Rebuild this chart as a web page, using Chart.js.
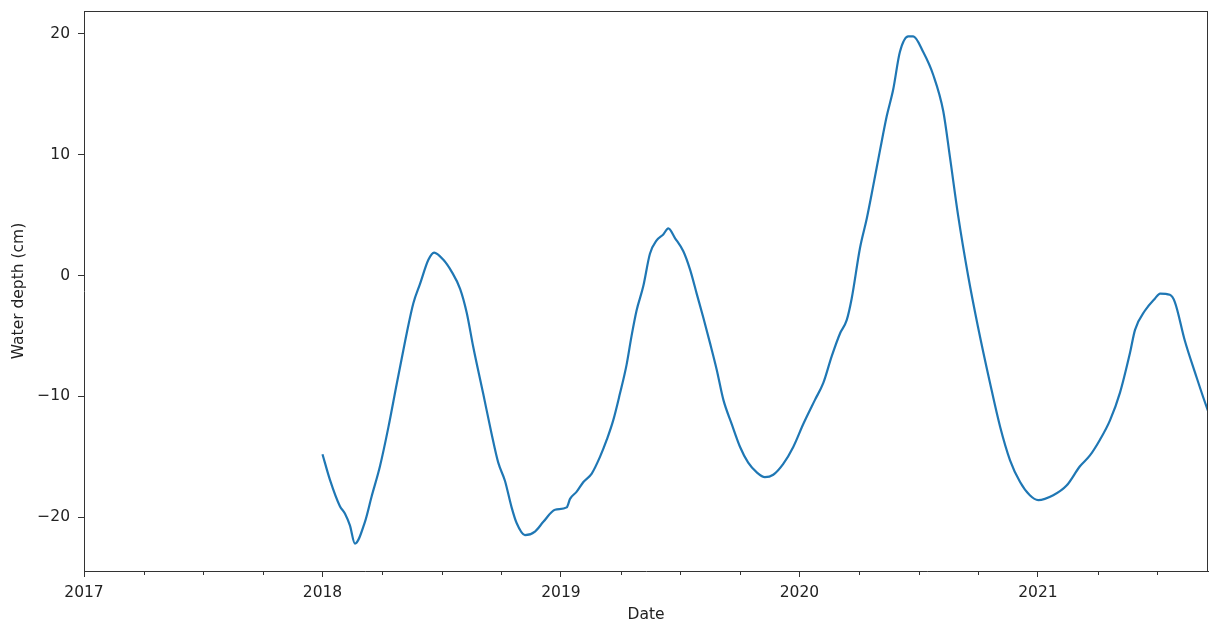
<!DOCTYPE html>
<html>
<head>
<meta charset="utf-8">
<script src="https://cdn.jsdelivr.net/npm/chart.js@4.4.1/dist/chart.umd.min.js"></script>
<style>
  html, body { margin: 0; padding: 0; background: #fff; }
  #wrap { width: 1209px; height: 624px; position: relative; }
</style>
</head>
<body>
<div id="wrap"><canvas id="c" width="1209" height="624"></canvas></div>
<script>
// Decimal-year dates of the observations
const years = [
  2018.000, 2018.031, 2018.073, 2018.094, 2018.115, 2018.136, 2018.178, 2018.206, 2018.241, 2018.276,
  2018.311, 2018.332, 2018.353, 2018.381, 2018.409, 2018.444, 2018.468, 2018.507, 2018.542, 2018.577,
  2018.605, 2018.632, 2018.674, 2018.709, 2018.737, 2018.765, 2018.793, 2018.814, 2018.849, 2018.891,
  2018.926, 2018.975, 2019.024, 2019.038, 2019.066, 2019.094, 2019.129, 2019.164, 2019.192, 2019.219,
  2019.247, 2019.275, 2019.296, 2019.317, 2019.345, 2019.373, 2019.401, 2019.429, 2019.450, 2019.478,
  2019.513, 2019.541, 2019.569, 2019.597, 2019.625, 2019.653, 2019.681, 2019.716, 2019.751, 2019.785,
  2019.821, 2019.855, 2019.890, 2019.932, 2019.974, 2020.016, 2020.065, 2020.100, 2020.135, 2020.170,
  2020.198, 2020.219, 2020.254, 2020.282, 2020.309, 2020.338, 2020.366, 2020.393, 2020.421, 2020.456,
  2020.477, 2020.519, 2020.561, 2020.603, 2020.631, 2020.665, 2020.707, 2020.748, 2020.799, 2020.841,
  2020.883, 2020.925, 2020.966, 2021.001, 2021.064, 2021.120, 2021.176, 2021.218, 2021.260, 2021.302,
  2021.344, 2021.386, 2021.407, 2021.449, 2021.491, 2021.512, 2021.553, 2021.574, 2021.616, 2021.658,
  2021.713, 2021.730
];
// Water depth (cm)
const depth = [
  -14.8, -16.9, -19.1, -19.7, -20.7, -22.2, -20.4, -18.3, -15.8, -12.6,
  -9.0, -6.9, -4.8, -2.3, -0.7, 1.3, 1.9, 1.3, 0.3, -1.1,
  -3.1, -5.9, -9.8, -13.1, -15.5, -17.0, -19.2, -20.5, -21.5, -21.2,
  -20.4, -19.4, -19.2, -18.5, -17.9, -17.1, -16.4, -15.0, -13.6, -12.0,
  -9.8, -7.4, -5.0, -2.9, -0.9, 1.8, 2.9, 3.4, 3.9, 3.1,
  2.0, 0.5, -1.5, -3.5, -5.6, -7.8, -10.3, -12.3, -14.2, -15.5,
  -16.3, -16.7, -16.5, -15.6, -14.2, -12.3, -10.3, -8.9, -6.7, -4.8,
  -3.7, -1.9, 2.3, 4.7, 7.4, 10.4, 13.2, 15.4, 18.5, 19.8,
  19.8, 18.5, 16.6, 13.6, 9.8, 5.0, 0.0, -4.2, -8.9, -12.5,
  -15.3, -17.1, -18.2, -18.6, -18.2, -17.4, -15.8, -14.9, -13.6, -12.0,
  -9.7, -6.4, -4.5, -2.9, -1.9, -1.5, -1.6, -2.2, -5.4, -8.0,
  -11.2, -12.0
];
const xTicks = [2017, 2018, 2019, 2020, 2021];
const xMinorTicks = [2017.25, 2017.5, 2017.75, 2018.25, 2018.5, 2018.75, 2019.25, 2019.5, 2019.75,
                     2020.25, 2020.5, 2020.75, 2021.25, 2021.5];
const yTicks = [-20, -10, 0, 10, 20];
const xRange = [2017, 2021.713];
const yRange = [-24.47, 21.9];

const FONT = 'DejaVu Sans';
const TXT = '#222222';
const SPINE = '#333333';

const framePlugin = {
  id: 'frame',
  afterDraw(chart) {
    const {ctx, chartArea: a, scales} = chart;
    ctx.save();
    ctx.strokeStyle = SPINE;
    ctx.lineWidth = 1;
    ctx.beginPath();
    ctx.moveTo(a.left, a.top + 0.5);
    ctx.lineTo(a.right, a.top + 0.5);
    ctx.moveTo(a.right - 0.5, a.top);
    ctx.lineTo(a.right - 0.5, a.bottom);
    ctx.stroke();
    // minor ticks on x axis
    const xs = scales.x;
    ctx.beginPath();
    xMinorTicks.forEach(v => {
      const px = Math.round(xs.getPixelForValue(v)) + 0.5;
      ctx.moveTo(px, a.bottom);
      ctx.lineTo(px, a.bottom + 4);
    });
    ctx.stroke();
    ctx.restore();
  }
};

new Chart(document.getElementById('c'), {
  type: 'line',
  data: {
    datasets: [{
      data: years.map((y, i) => ({x: y, y: depth[i]})),
      borderColor: '#1f77b4',
      borderWidth: 2.2,
      pointRadius: 0,
      cubicInterpolationMode: 'monotone',
      fill: false
    }]
  },
  options: {
    responsive: false,
    animation: false,
    devicePixelRatio: 1,
    layout: { padding: { left: 0, top: 11, right: 1, bottom: 0 } },
    plugins: { legend: { display: false }, tooltip: { enabled: false } },
    scales: {
      x: {
        type: 'linear',
        min: xRange[0], max: xRange[1],
        afterBuildTicks: s => { s.ticks = xTicks.map(v => ({value: v})); },
        afterFit: s => { s.height = 53; s.paddingLeft = 0; s.paddingRight = 0; },
        grid: { drawOnChartArea: false, drawTicks: true, tickLength: 6, tickColor: SPINE },
        border: { display: true, color: SPINE, width: 1 },
        ticks: {
          color: TXT, font: { family: FONT, size: 15.5 }, padding: 7,
          maxRotation: 0, autoSkip: false,
          callback: v => String(v)
        },
        title: { display: true, text: 'Date', color: TXT, font: { family: FONT, size: 15.5 }, padding: { top: 0, bottom: 0 } }
      },
      y: {
        type: 'linear',
        min: yRange[0], max: yRange[1],
        afterBuildTicks: s => { s.ticks = yTicks.map(v => ({value: v})); },
        afterFit: s => { s.width = 84; s.paddingTop = 0; s.paddingBottom = 0; },
        grid: { drawOnChartArea: false, drawTicks: true, tickLength: 6, tickColor: SPINE },
        border: { display: true, color: SPINE, width: 1 },
        ticks: {
          color: TXT, font: { family: FONT, size: 15.5 }, padding: 8,
          callback: v => (v < 0 ? '\u2212' + Math.abs(v) : String(v))
        },
        title: { display: true, text: 'Water depth (cm)', color: TXT, font: { family: FONT, size: 15.5 }, padding: { top: 10, bottom: 0 } }
      }
    }
  },
  plugins: [framePlugin]
});
</script>
</body>
</html>
